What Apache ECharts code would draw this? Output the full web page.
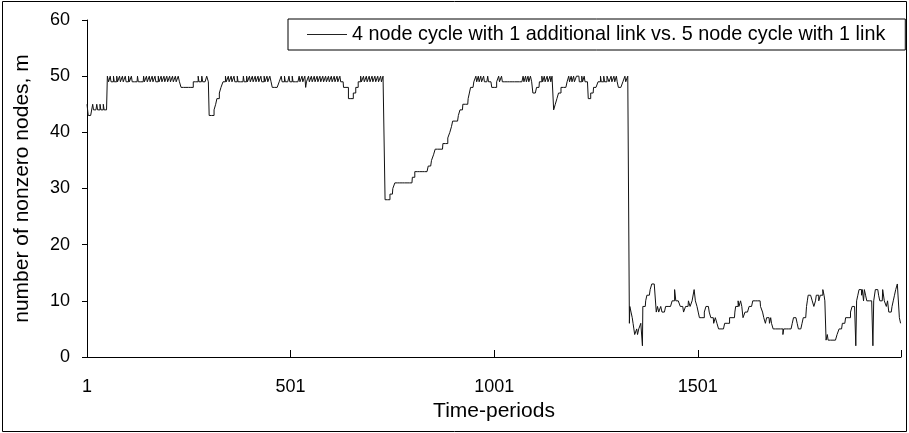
<!DOCTYPE html>
<html>
<head>
<meta charset="utf-8">
<script src="https://cdn.jsdelivr.net/npm/echarts@6/dist/echarts.min.js"></script>
<style>
html,body{margin:0;padding:0;background:#fff;}
#chart{width:909px;height:433px;}
</style>
</head>
<body>
<div id="chart"></div>
<script>
// ---- data ----
const seriesName = '4 node cycle with 1 additional link vs. 5 node cycle with 1 link';
const xTickLabels = ['1', '501', '1001', '1501'];
const periodCount = 2000;
// step runs: value runValue[i] holds from period runStart[i] until the next run starts
const runStart = [
  1, 4, 15, 17, 25, 27, 33, 35, 41, 43, 51, 54,
  58, 60, 66, 68, 74, 76, 81, 83, 88, 90, 95, 97, 103, 105, 110, 112, 125, 127,
  140, 142, 147, 149, 154, 156, 161, 163, 168, 170, 176, 178, 183, 185, 190, 192,
  197, 199, 204, 206, 211, 213, 218, 220, 225, 228,
  232, 262, 274, 276, 283, 285, 295, 299,
  301, 313, 317, 320, 326, 330, 335,
  341, 343, 348, 350, 355, 357, 362, 364, 370, 372, 385, 387, 393, 395, 400, 402,
  407, 409, 414, 416, 421, 423, 428, 430, 436, 438, 443, 445, 450, 453,
  456, 473, 478, 480, 486, 488, 497, 499, 505, 507, 522, 524, 529, 531, 536, 538, 540,
  545, 547, 552, 554, 559, 561, 566, 568, 573, 575, 580, 582, 587, 589, 594, 596,
  601, 603, 608, 610, 615, 617, 622, 624,
  631, 643, 655, 661, 667, 673, 675, 680, 682, 687, 689, 694, 696, 701, 703, 708, 710,
  715, 717, 722, 724, 728,
  733, 745, 752, 757, 800, 806, 839, 847, 852, 856, 875, 887, 892, 896, 899, 913, 917,
  924, 937, 940, 943, 951,
  956, 958, 962, 964, 968, 970, 975, 977, 985, 987, 995, 1007, 1012, 1014, 1019, 1021,
  1072, 1074, 1078, 1080, 1084, 1086, 1090, 1093,
  1096, 1105, 1112, 1118, 1120, 1124, 1126, 1131, 1133, 1138, 1140, 1143,
  1147, 1151, 1155, 1159, 1165, 1180, 1184, 1186, 1190, 1192, 1196, 1198, 1203, 1210,
  1216, 1218, 1222, 1224, 1232, 1238, 1245, 1256, 1262, 1264, 1270, 1272, 1278, 1283,
  1288, 1290, 1295, 1297, 1301, 1303, 1306, 1317, 1322, 1324, 1329,
  1333, 1334, 1337, 1340, 1342, 1344, 1346, 1351, 1353, 1356, 1361, 1365, 1366, 1373,
  1376, 1384, 1388, 1399, 1402, 1405, 1410, 1413, 1422, 1438, 1444, 1447, 1458, 1466,
  1471, 1478, 1482, 1487, 1492, 1495, 1499, 1502, 1505, 1517, 1521, 1529, 1533, 1540,
  1544, 1548, 1552, 1567, 1579, 1592, 1594, 1600, 1602, 1606, 1609, 1612, 1617, 1627,
  1636, 1655, 1660, 1663, 1667, 1670, 1677, 1680, 1682, 1686, 1710, 1712, 1733, 1736,
  1745, 1748, 1757, 1760, 1768, 1770, 1772, 1782, 1786, 1790, 1792, 1798, 1802, 1808,
  1811, 1813, 1816, 1819, 1821, 1843, 1848, 1856, 1864, 1876, 1880, 1889, 1891, 1894,
  1897, 1903, 1905, 1908, 1910, 1913, 1916, 1931, 1933, 1937, 1945, 1948, 1955, 1959,
  1964, 1967, 1970, 1978, 1981, 1984, 1987, 1991, 1996, 1999
];
const runValue = [
  45, 43, 45, 44, 45, 44, 45, 44, 45, 44, 50, 49,
  50, 49, 50, 49, 50, 49, 50, 49, 50, 49, 50, 49, 50, 49, 50, 49, 50, 49,
  50, 49, 50, 49, 50, 49, 50, 49, 50, 49, 50, 49, 50, 49, 50, 49,
  50, 49, 50, 49, 50, 49, 50, 49, 50, 49,
  48, 49, 50, 49, 50, 49, 50, 49,
  43, 44, 45, 46, 47, 48, 49,
  50, 49, 50, 49, 50, 49, 50, 49, 50, 49, 50, 49, 50, 49, 50, 49,
  50, 49, 50, 49, 50, 49, 50, 49, 50, 49, 50, 49, 50, 49,
  48, 49, 50, 49, 50, 49, 50, 49, 50, 49, 50, 49, 50, 49, 50, 48, 49,
  50, 49, 50, 49, 50, 49, 50, 49, 50, 49, 50, 49, 50, 49, 50, 49,
  50, 49, 50, 49, 50, 49, 50, 49,
  48, 46, 47, 48, 49, 50, 49, 50, 49, 50, 49, 50, 49, 50, 49, 50, 49,
  50, 49, 50, 49, 50,
  28, 29, 30, 31, 32, 33, 34, 35, 36, 37, 38, 39, 40, 41, 42, 43, 44,
  45, 46, 47, 48, 49,
  50, 49, 50, 49, 50, 49, 50, 49, 50, 49, 48, 49, 50, 49, 50, 49,
  50, 49, 50, 49, 50, 49, 50, 49,
  47, 48, 49, 50, 49, 50, 49, 50, 49, 50, 49, 50,
  44, 45, 46, 47, 48, 49, 50, 49, 50, 49, 50, 49, 50, 49,
  50, 49, 50, 49, 46, 47, 48, 49, 50, 49, 50, 49, 50, 49,
  50, 49, 50, 49, 50, 49, 48, 49, 50, 49, 50,
  6, 9, 8, 7, 6, 5, 4, 5, 4, 5, 6, 2, 9, 10,
  11, 12, 13, 8, 9, 8, 9, 8, 9, 10, 12, 10, 9, 8,
  9, 10, 9, 10, 12, 10, 9, 8, 7, 8, 9, 8, 7, 6,
  7, 6, 5, 6, 7, 8, 9, 10, 9, 10, 9, 7, 8, 9,
  10, 9, 8, 7, 6, 7, 6, 7, 6, 5, 4, 5, 6, 7,
  6, 5, 6, 7, 9, 10, 11, 10, 9, 10, 11, 10, 11, 12,
  11, 10, 3, 4, 3, 4, 5, 6, 7, 8, 9, 2, 10, 11,
  12, 11, 12, 10, 12, 11, 10, 2, 10, 12, 11, 10, 12, 10,
  9, 10, 8, 9, 10, 11, 12, 13, 7, 6
];
const yMin = 0, yMax = 60, yStep = 10;

// ---- build category data ----
const categories = [];
const values = [];
let r = 0;
for (let p = 1; p <= periodCount; p++) {
  categories.push(String(p));
  while (r + 1 < runStart.length && runStart[r + 1] <= p) r++;
  values.push(runValue[r]);
}

const FONT = "'Liberation Sans', Arial, Helvetica, sans-serif";
const chart = echarts.init(document.getElementById('chart'), null, {renderer: 'canvas'});
chart.setOption({
  animation: false,
  backgroundColor: '#fff',
  textStyle: {fontFamily: FONT},
  graphic: [{
    type: 'rect', silent: true, z: -10,
    shape: {x: 2.5, y: 1.5, width: 904, height: 430},
    style: {fill: 'none', stroke: '#000', lineWidth: 1}
  }],
  grid: {left: 87, right: 8, top: 20, bottom: 76, containLabel: false},
  legend: {
    show: true,
    left: 288, top: 19,
    padding: [5.5, 20, 5.5, 19],
    icon: 'rect',
    itemWidth: 40, itemHeight: 1, itemGap: 0,
    itemStyle: {color: '#222', borderWidth: 0},
    backgroundColor: '#fff', borderColor: '#000', borderWidth: 1, borderRadius: 0,
    textStyle: {fontSize: 19.8, color: '#000', fontFamily: FONT},
    data: [seriesName]
  },
  xAxis: {
    type: 'category',
    data: categories,
    boundaryGap: false,
    name: 'Time-periods',
    nameLocation: 'middle',
    nameGap: 42,
    nameTextStyle: {fontSize: 21, color: '#000', fontFamily: FONT},
    axisLine: {lineStyle: {color: '#000', width: 1}},
    axisTick: {
      inside: true, length: 7, lineStyle: {color: '#000'},
      interval: function (i, v) { return xTickLabels.indexOf(v) >= 0 || i === periodCount - 1; }
    },
    axisLabel: {
      fontSize: 18, color: '#000', margin: 21, fontFamily: FONT,
      interval: function (i, v) { return xTickLabels.indexOf(v) >= 0; }
    },
    splitLine: {show: false}
  },
  yAxis: {
    type: 'value',
    min: yMin, max: yMax, interval: yStep,
    name: 'number of nonzero nodes, m',
    nameLocation: 'middle',
    nameGap: 54,
    nameTextStyle: {fontSize: 21, color: '#000', fontFamily: FONT},
    axisLine: {show: true, lineStyle: {color: '#000', width: 1}},
    axisTick: {show: true, inside: false, length: 5, lineStyle: {color: '#000'}},
    axisLabel: {fontSize: 18, color: '#000', margin: 17, fontFamily: FONT},
    splitLine: {show: false}
  },
  series: [{
    name: seriesName,
    type: 'line',
    step: 'end',
    data: values,
    showSymbol: false,
    symbol: 'none',
    lineStyle: {color: '#111', width: 1},
    itemStyle: {color: '#111'}
  }]
});
</script>
</body>
</html>
